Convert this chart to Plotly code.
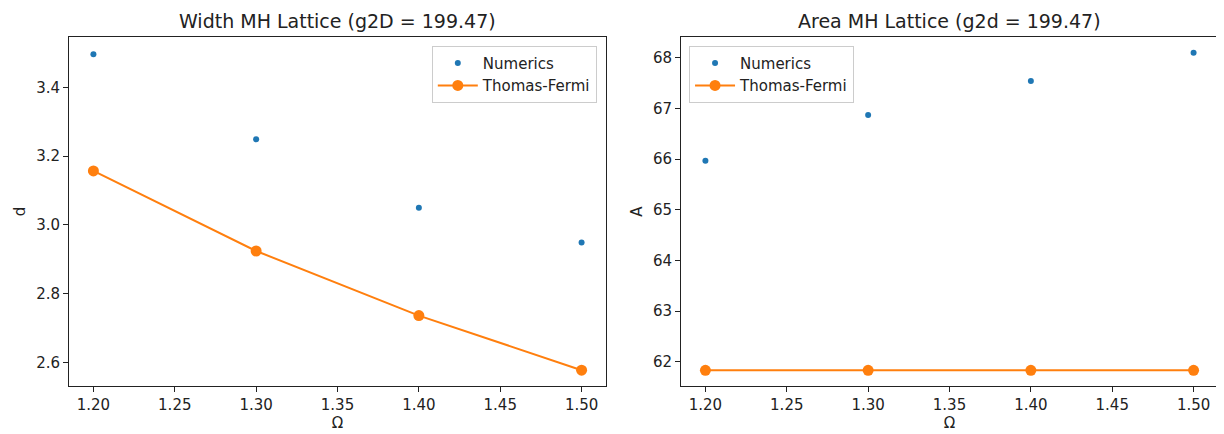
import plotly.graph_objects as go

omega = [1.20, 1.30, 1.40, 1.50]
width_numerics = [3.497, 3.249, 3.050, 2.949]
width_tf = [3.157, 2.924, 2.736, 2.577]
area_numerics = [65.965, 66.87, 67.54, 68.10]
area_tf = [61.83, 61.83, 61.83, 61.83]

blue = "#1f77b4"
orange = "#ff7f0e"
font = "DejaVu Sans"

fig = go.Figure()
fig.add_trace(go.Scatter(x=omega, y=width_numerics, mode="markers", name="Numerics",
                         marker=dict(color=blue, size=6), xaxis="x", yaxis="y", legend="legend"))
fig.add_trace(go.Scatter(x=omega, y=width_tf, mode="lines+markers", name="Thomas-Fermi",
                         line=dict(color=orange, width=2), marker=dict(color=orange, size=11),
                         xaxis="x", yaxis="y", legend="legend"))
fig.add_trace(go.Scatter(x=omega, y=area_numerics, mode="markers", name="Numerics",
                         marker=dict(color=blue, size=6), xaxis="x2", yaxis="y2", legend="legend2"))
fig.add_trace(go.Scatter(x=omega, y=area_tf, mode="lines+markers", name="Thomas-Fermi",
                         line=dict(color=orange, width=2), marker=dict(color=orange, size=11),
                         xaxis="x2", yaxis="y2", legend="legend2"))

# page body has an 8px margin, so the figure is drawn 8px smaller and shifted
OFF = 8
W, H = 1224 - OFF, 434 - OFF
l, t = 69 - OFF, 37 - OFF
r = W - (1218 - OFF)
b = H - (386 - OFF)
pw = W - l - r
d1 = [0, 537 / pw]
d2 = [(681 - 69) / pw, 1]

axcommon = dict(showgrid=False, zeroline=False, showline=True, mirror=True, linecolor="#222",
                linewidth=1, ticks="outside", ticklen=5, tickcolor="#222",
                tickfont=dict(family=font, size=15, color="#222"))

leg = dict(bgcolor="rgba(255,255,255,0.8)", bordercolor="#cccccc", borderwidth=1,
           font=dict(family=font, size=15, color="#222"), itemwidth=40, tracegroupgap=0)

fig.update_layout(
    width=W, height=H,
    margin=dict(l=l, r=r, t=t, b=b),
    plot_bgcolor="white", paper_bgcolor="white",
    font=dict(family=font, color="#222"),
    xaxis=dict(domain=d1, range=[1.185, 1.515], tickvals=[1.20, 1.25, 1.30, 1.35, 1.40, 1.45, 1.50],
               tickformat=".2f", anchor="y",
               title=dict(text="Ω", font=dict(family=font, size=15), standoff=2), **axcommon),
    yaxis=dict(domain=[0, 1], range=[2.531, 3.547], tickvals=[2.6, 2.8, 3.0, 3.2, 3.4], tickformat=".1f",
               anchor="x", title=dict(text="d", font=dict(family=font, size=15), standoff=6), **axcommon),
    xaxis2=dict(domain=d2, range=[1.185, 1.515], tickvals=[1.20, 1.25, 1.30, 1.35, 1.40, 1.45, 1.50],
                tickformat=".2f", anchor="y2",
                title=dict(text="Ω", font=dict(family=font, size=15), standoff=2), **axcommon),
    yaxis2=dict(domain=[0, 1], range=[61.52, 68.41], tickvals=[62, 63, 64, 65, 66, 67, 68],
                anchor="x2", title=dict(text="A", font=dict(family=font, size=15), standoff=6), **axcommon),
    legend=dict(x=d1[1] - 0.008, y=0.975, xanchor="right", yanchor="top", **leg),
    legend2=dict(x=d2[0] + 0.007, y=0.975, xanchor="left", yanchor="top", **leg),
    annotations=[
        dict(text="Width MH Lattice (g2D = 199.47)", x=(d1[0] + d1[1]) / 2, y=1, xref="paper", yref="paper",
             xanchor="center", yanchor="bottom", yshift=3, showarrow=False,
             font=dict(family=font, size=19, color="#222")),
        dict(text="Area MH Lattice (g2d = 199.47)", x=(d2[0] + d2[1]) / 2, y=1, xref="paper", yref="paper",
             xanchor="center", yanchor="bottom", yshift=3, showarrow=False,
             font=dict(family=font, size=19, color="#222")),
    ],
)

fig.write_html("out.html")
